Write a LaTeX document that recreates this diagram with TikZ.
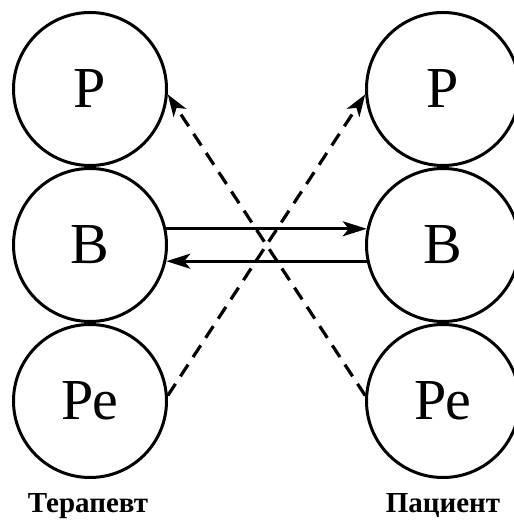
\documentclass[tikz,border=0pt]{standalone}
\usepackage{fontspec}
\setmainfont{Liberation Serif}
\usepackage{tikz}
\usetikzlibrary{arrows.meta, positioning}

\begin{document}
\begin{tikzpicture}[x=1pt, y=1pt,
    egostate/.style={draw, circle, line width=3pt, minimum size=153pt, inner sep=0pt, font=\fontsize{58}{60}\selectfont},
    rolelabel/.style={font=\fontsize{29}{30}\selectfont\bfseries},
    solidarrow/.style={-{Stealth[length=24pt, width=15pt, inset=6pt]}, line width=2.6pt},
    dasharrow/.style={-{Stealth[length=22pt, width=15pt, inset=6pt]}, line width=3.2pt, dash pattern=on 14pt off 9pt}]
  \useasboundingbox (0,0) rectangle (513,521);

  % Therapist ego states
  \node[egostate] (tP) at (90, 432) {Р};
  \node[egostate] (tB) at (90, 276) {В};
  \node[egostate] (tRe) at (90, 120) {Ре};
  \node[rolelabel] (tName) at (88, 15) {Терапевт};

  % Patient ego states
  \node[egostate] (pP) at (443, 432) {Р};
  \node[egostate] (pB) at (443, 276) {В};
  \node[egostate] (pRe) at (443, 120) {Ре};
  \node[rolelabel] (pName) at (443, 15) {Пациент};

  % Adult to adult
  \draw[solidarrow] (tB.12) -- (pB.168);
  \draw[solidarrow] (pB.192) -- (tB.348);

  % Crossed child to parent
  \draw[dasharrow] (tRe.4) -- (pP.184);
  \draw[dasharrow] (pRe.176) -- (tP.356);
\end{tikzpicture}
\end{document}
